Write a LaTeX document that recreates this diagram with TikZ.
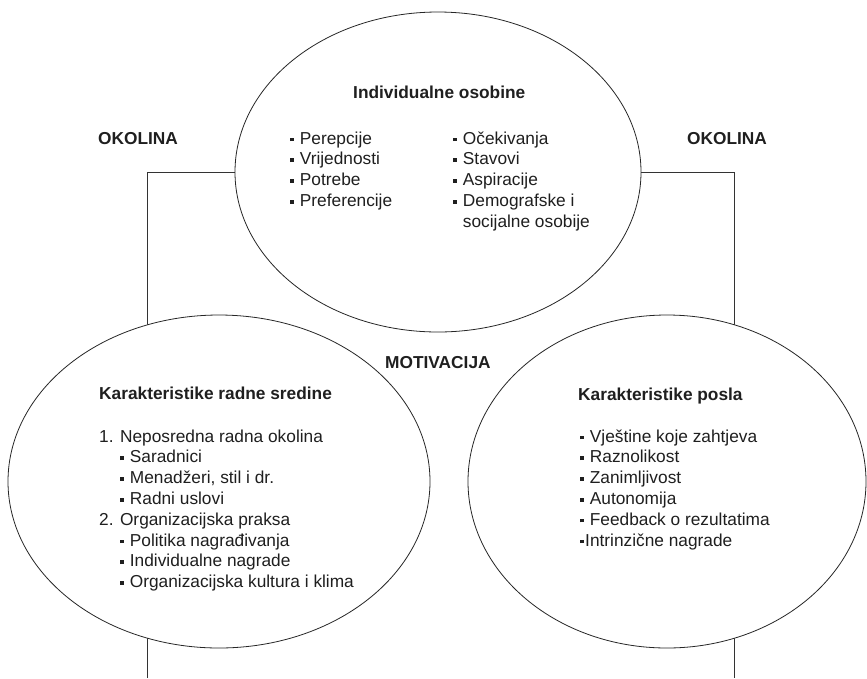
\documentclass[tikz,border=0pt]{standalone}
\usepackage{fontspec}
\setmainfont{Liberation Sans}
\usetikzlibrary{shapes.geometric}
\newcommand{\kv}{\makebox[9.7pt][l]{\rule[2.8pt]{3.6pt}{3.6pt}}}
\newcommand{\kvu}{\makebox[5pt][l]{\rule[2.8pt]{3.6pt}{3.6pt}}}
\begin{document}
\begin{tikzpicture}[x=1pt,y=-1pt,
  krug/.style={ellipse,draw=black!85,line width=0.8pt,fill=white,inner sep=0pt},
  okvir/.style={draw=black!80,line width=0.8pt},
  naslov/.style={font=\fontsize{17.3}{20.8}\selectfont\bfseries,text=black!88,inner sep=0pt,anchor=base west},
  lista/.style={font=\fontsize{17.3}{20.8}\selectfont,text=black!88,align=left,inner sep=0pt,anchor=base west}]

\useasboundingbox (0,0) rectangle (867,678);

\coordinate (ld) at (147,678);
\coordinate (lg) at (147,172);
\coordinate (dg) at (734,172);
\coordinate (dd) at (734,678);
\draw[okvir] (ld) -- (lg) -- (dg) -- (dd);

\node[krug,minimum width=406pt,minimum height=320pt] (osobine) at (438,172) {};
\node[krug,minimum width=422pt,minimum height=333pt] (sredina) at (219,481.5) {};
\node[krug,minimum width=398pt,minimum height=333pt] (posao) at (667,481.5) {};

\node[naslov] (okolinaL) at (98,144) {OKOLINA};
\node[naslov] (okolinaD) at (687,144) {OKOLINA};
\node[naslov] (motivacija) at (385,368) {MOTIVACIJA};

% lists sit on the baseline of their last line
\node[naslov] (osobineN) at (353,98) {Individualne osobine};
\node[lista] (osobineL) at (290,206.4) {\kv Perepcije\\ \kv Vrijednosti\\ \kv Potrebe\\ \kv Preferencije};
\node[lista] (osobineD) at (453,227.2) {\kv Očekivanja\\ \kv Stavovi\\ \kv Aspiracije\\ \kv Demografske i\\ \hspace*{9.7pt}socijalne osobije};

\node[naslov] (sredinaN) at (99,399) {Karakteristike radne sredine};
\node[lista] (sredinaL) at (99,587.6) {1. Neposredna radna okolina\\
\hspace*{21pt}\kv Saradnici\\
\hspace*{21pt}\kv Menadžeri, stil i dr.\\
\hspace*{21pt}\kv Radni uslovi\\
2. Organizacijska praksa\\
\hspace*{21pt}\kv Politika nagrađivanja\\
\hspace*{21pt}\kv Individualne nagrade\\
\hspace*{21pt}\kv Organizacijska kultura i klima};

\node[naslov] (posaoN) at (578,400) {Karakteristike posla};
\node[lista] (posaoL) at (580,546) {\kv Vještine koje zahtjeva\\ \kv Raznolikost\\ \kv Zanimljivost\\ \kv Autonomija\\ \kv Feedback o rezultatima\\ \kvu Intrinzične nagrade};
\end{tikzpicture}
\end{document}
